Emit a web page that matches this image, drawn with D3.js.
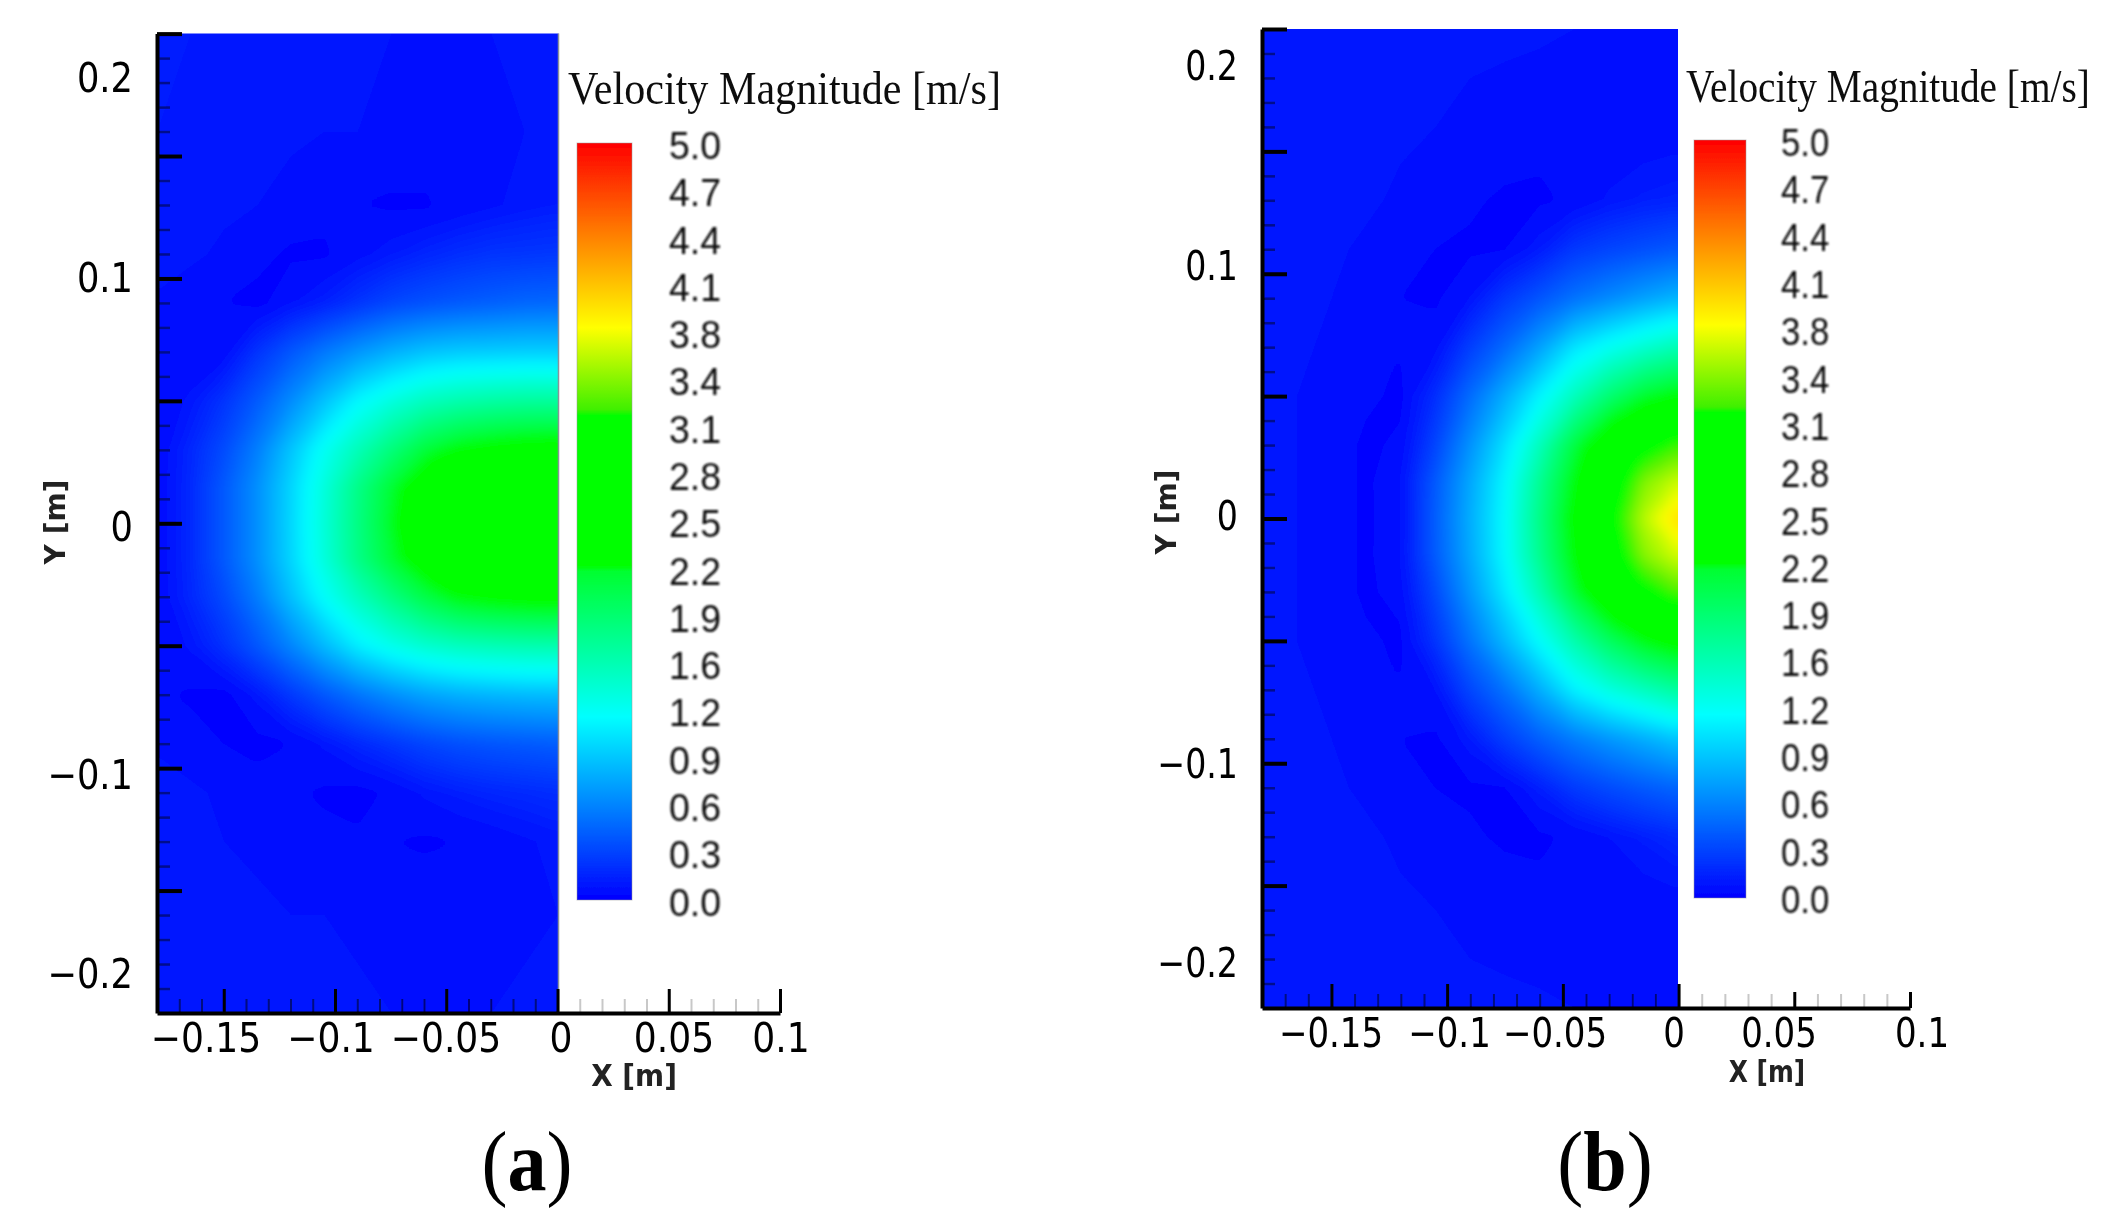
<!DOCTYPE html>
<html>
<head>
<meta charset="utf-8">
<title>Velocity Magnitude</title>
<script src="https://cdn.jsdelivr.net/npm/d3@7"></script>
<style>
  html, body { margin: 0; background: #fff; }
  svg { display: block; }
</style>
</head>
<body>
<div id="chart"></div>
<script>
// sample positions of the velocity fields, in metres
const xGrid = [-0.18, -0.165, -0.15, -0.135, -0.12, -0.105, -0.09, -0.075, -0.06, -0.045, -0.03, -0.015, 0];
const yGrid = [0.2, 0.16, 0.13, 0.11, 0.09, 0.07, 0.05, 0.03, 0.015, 0, -0.015, -0.03, -0.05, -0.07, -0.09, -0.11, -0.13, -0.16, -0.2];

// velocity magnitude, one row per yGrid entry
const fieldA = [
  [.15, .14, .13, .12, .12, .11, .11, .10, .10, .10, .10, .11, .12],
  [.14, .13, .12, .12, .11, .10, .10, .09, .09, .09, .09, .10, .11],
  [.14, .13, .11, .10, .08, .06, .04, .03, .03, .06, .09, .12, .14],
  [.13, .11, .09, .06, .03, .03, .08, .13, .18, .22, .25, .26, .27],
  [.09, .07, .04, .02, .09, .16, .25, .34, .39, .43, .46, .49, .50],
  [.06, .04, .06, .25, .42, .58, .72, .84, .93, .97, .98, .99, .99],
  [.04, .115, .25, .44, .67, .93, 1.19, 1.37, 1.52, 1.60, 1.65, 1.68, 1.69],
  [.05, .19, .365, .61, .94, 1.27, 1.55, 1.84, 2.13, 2.30, 2.38, 2.43, 2.45],
  [.05, .20, .43, .69, 1.02, 1.38, 1.78, 2.15, 2.45, 2.65, 2.80, 2.90, 2.95],
  [.05, .20, .43, .69, 1.03, 1.40, 1.80, 2.20, 2.50, 2.70, 2.85, 2.95, 3.00],
  [.05, .20, .43, .69, 1.02, 1.38, 1.78, 2.14, 2.42, 2.62, 2.78, 2.88, 2.93],
  [.05, .19, .36, .60, .92, 1.24, 1.52, 1.80, 2.08, 2.28, 2.36, 2.40, 2.42],
  [.04, .11, .24, .42, .64, .89, 1.14, 1.31, 1.44, 1.52, 1.56, 1.59, 1.60],
  [.05, .03, .02, .12, .27, .42, .56, .68, .78, .84, .87, .89, .90],
  [.09, .07, .04, .02, .04, .11, .19, .26, .33, .38, .41, .43, .45],
  [.13, .11, .09, .07, .05, .03, .02, .05, .11, .15, .18, .20, .22],
  [.13, .12, .10, .09, .07, .06, .05, .04, .03, .04, .06, .09, .12],
  [.13, .12, .12, .11, .10, .10, .09, .09, .09, .09, .09, .09, .10],
  [.14, .13, .13, .12, .12, .11, .11, .10, .10, .10, .10, .11, .12]
];
const fieldB = [
  [.13, .13, .13, .12, .12, .12, .11, .11, .11, .10, .10, .10, .10],
  [.14, .13, .13, .12, .11, .10, .09, .08, .06, .05, .04, .05, .06],
  [.14, .13, .12, .11, .09, .07, .05, .03, .03, .05, .11, .15, .17],
  [.13, .13, .11, .09, .07, .04, .03, .04, .13, .27, .33, .38, .43],
  [.13, .12, .10, .07, .04, .03, .10, .27, .41, .55, .66, .77, .87],
  [.12, .11, .09, .06, .04, .07, .30, .51, .77, 1.09, 1.27, 1.43, 1.58],
  [.11, .10, .08, .05, .03, .22, .52, .83, 1.17, 1.53, 1.88, 2.17, 2.32],
  [.10, .10, .07, .03, .05, .33, .70, 1.07, 1.53, 2.10, 2.60, 3.05, 3.25],
  [.10, .10, .07, .03, .08, .43, .80, 1.18, 1.72, 2.27, 2.83, 3.42, 3.65],
  [.10, .10, .07, .03, .075, .45, .83, 1.21, 1.78, 2.36, 3.00, 3.58, 3.95],
  [.10, .10, .07, .03, .08, .44, .81, 1.20, 1.74, 2.30, 2.86, 3.44, 3.67],
  [.10, .10, .07, .03, .06, .36, .73, 1.11, 1.57, 2.14, 2.64, 3.07, 3.30],
  [.11, .10, .08, .05, .03, .25, .56, .88, 1.22, 1.60, 1.96, 2.25, 2.42],
  [.12, .11, .09, .06, .04, .09, .34, .55, .83, 1.15, 1.36, 1.52, 1.68],
  [.13, .12, .10, .07, .04, .03, .13, .30, .46, .60, .72, .83, .95],
  [.13, .13, .11, .09, .07, .04, .03, .04, .15, .28, .36, .43, .49],
  [.14, .13, .12, .11, .09, .07, .05, .03, .03, .05, .10, .15, .20],
  [.14, .13, .13, .12, .11, .10, .09, .08, .06, .05, .05, .05, .06],
  [.13, .13, .13, .12, .12, .12, .11, .11, .11, .10, .10, .10, .10]
];

// colour map of the legend bar
const colorStopValues = [0, 1.21, 2.17, 2.21, 3.2, 3.24, 3.78, 5];
const colorStopColors = ['#0000ff', '#00ffff', '#00ff30', '#00ff00', '#00ff00', '#40f000', '#ffff00', '#ff0000'];

const legendLabels = ['5.0', '4.7', '4.4', '4.1', '3.8', '3.4', '3.1', '2.8', '2.5', '2.2', '1.9', '1.6', '1.2', '0.9', '0.6', '0.3', '0.0'];

const xMajorTicks = [-0.15, -0.1, -0.05, 0, 0.05, 0.1];
const xTickLabels = ['\u22120.15', '\u22120.1', '\u22120.05', '0', '0.05', '0.1'];
const yMajorTicks = [0.2, 0.15, 0.1, 0.05, 0, -0.05, -0.1, -0.15];
const yLabelValues = [0.2, 0.1, 0, -0.1, -0.2];
const yTickLabels = ['0.2', '0.1', '0', '\u22120.1', '\u22120.2'];
const minorStep = 0.01;

const TITLE = 'Velocity Magnitude [m/s]';

// layout of each panel, in page pixels
const panels = [
  {
    field: fieldA, caption: 'a',
    left: 157, wall: 558.5, right: 780, top: 33.6, bottom: 1013,
    xLabelPos: [206, 331, 446, 561, 674, 781], xLabelY: 1037, xLabelScale: 0.88,
    yLabelPos: [77, 277, 526, 774, 973], yLabelX: 133, yLabelScale: 0.86,
    xTitle: [634, 1075, 1], yTitle: [54, 522],
    barX: 577, barW: 55, barTop: 143, barBottom: 900,
    title: [568, 103.5, 433],
    legendX: 669, legendTop: 146, legendBottom: 902.5, legendScale: 0.96,
    captionX: 527, rightMajor: 24, edge: '#8b9199'
  },
  {
    field: fieldB, caption: 'b',
    left: 1262, wall: 1678, right: 1910, top: 29, bottom: 1008,
    xLabelPos: [1331, 1449.5, 1555, 1674, 1779, 1922], xLabelY: 1032, xLabelScale: 0.83,
    yLabelPos: [65, 265, 515, 763, 961.6], yLabelX: 1238, yLabelScale: 0.81,
    xTitle: [1767, 1071, 0.89], yTitle: [1165, 512],
    barX: 1694, barW: 52, barTop: 140, barBottom: 898,
    title: [1686, 102, 404],
    legendX: 1781, legendTop: 143, legendBottom: 900, legendScale: 0.89,
    captionX: 1605, rightMajor: 16, edge: null
  }
];

const width = 2115;
const height = 1228;

const svg = d3.select('#chart').append('svg')
  .attr('width', width)
  .attr('height', height)
  .attr('viewBox', `0 0 ${width} ${height}`);

const defs = svg.append('defs');
const addBlur = (id, dev) => defs.append('filter').attr('id', id)
  .append('feGaussianBlur').attr('stdDeviation', dev);
addBlur('soft', 0.7);
addBlur('softer', 0.8);
addBlur('fieldBlur', 6);

const color = d3.scaleLinear().domain(colorStopValues).range(colorStopColors).clamp(true);
const thresholds = d3.range(0, 4.2, 0.02);

const root = svg.append('g').attr('filter', 'url(#soft)');

const addText = (parent, x, y, str, font, size, sx = 1) => parent.append('text')
  .attr('transform', `translate(${x},${y}) scale(${sx},1)`)
  .attr('font-family', font)
  .attr('font-size', size)
  .text(str);

panels.forEach((p, pi) => {
  const g = root.append('g');

  // pixels per metre are the same either side of the wall, so x runs -0.18 .. 0.1
  const x = d3.scaleLinear().domain([-0.18, 0]).range([p.left, p.wall]);
  const xAxisEnd = d3.scaleLinear().domain([-0.18, 0.1]).range([p.left, p.right]);
  const y = d3.scaleLinear().domain([-0.2, 0.2]).range([p.bottom, p.top]);

  // field as nested contour bands over the sample grid; the outer half cell runs
  // past the plot so the blur below has colour to pull from at the clipped edges
  const pad = 0.03;
  const xIndex = d3.scaleLinear()
    .domain([0, ...xGrid.map((_, i) => i + 0.5), xGrid.length])
    .range([xGrid[0] - pad, ...xGrid, pad]);
  const yIndex = d3.scaleLinear()
    .domain([0, ...yGrid.map((_, i) => i + 0.5), yGrid.length])
    .range([yGrid[0] + pad, ...yGrid, yGrid[yGrid.length - 1] - pad]);
  const toPage = d3.geoTransform({
    point(px, py) { this.stream.point(x(xIndex(px)), y(yIndex(py))); }
  });
  const bands = d3.contours()
    .size([xGrid.length, yGrid.length])
    .thresholds(thresholds)(p.field.flat());

  const clipId = `field-clip-${pi}`;
  defs.append('clipPath').attr('id', clipId)
    .append('rect')
    .attr('x', p.left).attr('y', p.top)
    .attr('width', p.wall - p.left).attr('height', p.bottom - p.top);

  g.append('g').attr('clip-path', `url(#${clipId})`)
    .append('g').attr('filter', 'url(#fieldBlur)')
    .selectAll('path')
    .data(bands)
    .enter()
    .append('path')
    .attr('d', d3.geoPath(toPage))
    .attr('fill', d => color(d.value));

  if (p.edge) {
    g.append('line')
      .attr('x1', p.wall).attr('x2', p.wall)
      .attr('y1', p.top).attr('y2', p.bottom)
      .attr('stroke', p.edge).attr('stroke-width', 1.5);
  }

  // axes: ticks point into the plot
  const allY = d3.range(-19, 20).map(d => d * minorStep)
    .filter(v => !yMajorTicks.some(m => Math.abs(m - v) < 1e-6));
  const yMinorAxis = g.append('g').attr('transform', `translate(${p.left},0)`)
    .call(d3.axisRight(y).tickValues(allY).tickSize(13).tickFormat(''));
  yMinorAxis.select('.domain').remove();
  yMinorAxis.selectAll('line').attr('stroke', '#000').attr('stroke-width', 2.5).attr('opacity', 0.45);

  const yMajorAxis = g.append('g').attr('transform', `translate(${p.left},0)`)
    .call(d3.axisRight(y).tickValues(yMajorTicks).tickSize(25).tickSizeOuter(0).tickFormat(''));
  yMajorAxis.select('.domain').attr('stroke', '#000').attr('stroke-width', 4);
  yMajorAxis.selectAll('line').attr('stroke', '#000').attr('stroke-width', 4);

  const allX = d3.range(-17, 10).map(d => d * minorStep)
    .filter(v => !xMajorTicks.some(m => Math.abs(m - v) < 1e-6));
  const xMinorAxis = g.append('g').attr('transform', `translate(0,${p.bottom})`)
    .call(d3.axisTop(xAxisEnd).tickValues(allX).tickSize(14).tickFormat(''));
  xMinorAxis.select('.domain').remove();
  xMinorAxis.selectAll('line')
    .attr('stroke', d => d < 0 ? '#000' : '#c8c8c8')
    .attr('stroke-width', 2)
    .attr('opacity', d => d < 0 ? 0.5 : 1);

  const xMajorAxis = g.append('g').attr('transform', `translate(0,${p.bottom})`)
    .call(d3.axisTop(xAxisEnd).tickValues(xMajorTicks).tickSize(24).tickSizeOuter(0).tickFormat(''));
  xMajorAxis.select('.domain').attr('stroke', '#000').attr('stroke-width', 4);
  xMajorAxis.selectAll('line')
    .attr('stroke', '#000')
    .attr('stroke-width', 3)
    .attr('y2', d => d > 0 ? -p.rightMajor : -24);

  // tick labels sit where the original figure put them, not on the ticks
  const yLabelAt = d3.scaleLinear().domain(yLabelValues).range(p.yLabelPos);
  yLabelValues.forEach((v, i) => {
    addText(g, p.yLabelX, yLabelAt(v) + 15, yTickLabels[i], 'DejaVu Sans', 41, p.yLabelScale)
      .attr('text-anchor', 'end')
      .attr('fill', '#000');
  });
  const xLabelAt = d3.scaleLinear().domain(xMajorTicks).range(p.xLabelPos);
  xMajorTicks.forEach((v, i) => {
    addText(g, xLabelAt(v), p.xLabelY + 15, xTickLabels[i], 'DejaVu Sans', 41, p.xLabelScale)
      .attr('text-anchor', 'middle')
      .attr('fill', '#000');
  });

  addText(g, p.xTitle[0], p.xTitle[1] + 11, 'X [m]', 'DejaVu Sans', 30, p.xTitle[2] * 0.93)
    .attr('text-anchor', 'middle')
    .attr('font-weight', 'bold')
    .attr('fill', '#222');
  g.append('text')
    .attr('transform', `translate(${p.yTitle[0] + 11},${p.yTitle[1]}) rotate(-90)`)
    .attr('text-anchor', 'middle')
    .attr('font-family', 'DejaVu Sans')
    .attr('font-size', 28)
    .attr('font-weight', 'bold')
    .attr('fill', '#222')
    .text('Y [m]');

  // legend title squeezed to the measured width of the original
  const title = addText(g, p.title[0], p.title[1], TITLE, 'Liberation Serif', 46)
    .attr('fill', '#111');
  const titleScale = p.title[2] / title.node().getComputedTextLength();
  title.attr('transform', `translate(${p.title[0]},${p.title[1]}) scale(${titleScale},1)`);

  const gradId = `bar-${pi}`;
  defs.append('linearGradient').attr('id', gradId)
    .attr('x1', 0).attr('y1', 1).attr('x2', 0).attr('y2', 0)
    .selectAll('stop')
    .data(colorStopValues)
    .enter()
    .append('stop')
    .attr('offset', d => d / 5)
    .attr('stop-color', d => color(d));

  g.append('rect')
    .attr('x', p.barX).attr('y', p.barTop)
    .attr('width', p.barW).attr('height', p.barBottom - p.barTop)
    .attr('fill', `url(#${gradId})`)
    .attr('stroke', '#9a9a9a')
    .attr('stroke-opacity', 0.5);

  const legendY = d3.scalePoint().domain(legendLabels).range([p.legendTop, p.legendBottom]);
  const legendGroup = g.append('g').attr('filter', 'url(#softer)');
  legendLabels.forEach(l => {
    addText(legendGroup, p.legendX, legendY(l) + 13, l, 'Liberation Sans', 39, p.legendScale)
      .attr('fill', '#111');
  });

  // caption
  const cap = addText(g, p.captionX, 1190, '', 'Liberation Serif', 84, 0.93)
    .attr('text-anchor', 'middle')
    .attr('fill', '#000');
  cap.append('tspan').text('(');
  cap.append('tspan').attr('font-weight', 'bold').text(p.caption);
  cap.append('tspan').text(')');
});
</script>
</body>
</html>
